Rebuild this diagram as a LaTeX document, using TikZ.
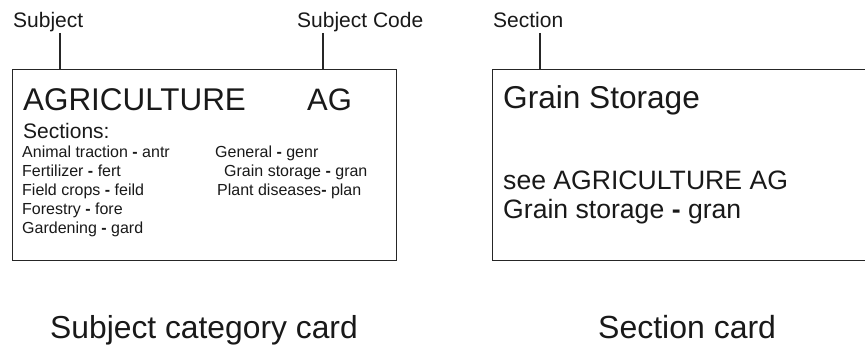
\documentclass[tikz,border=0pt]{standalone}
\usepackage{fontspec}
\setmainfont{Liberation Sans}
\newcommand{\fsz}[1]{\fontsize{#1}{#1}\selectfont}
\newcommand{\dsh}{\textbf{-}}
\tikzset{
  card/.style={draw=black!85, line width=1.3pt, inner sep=0pt, anchor=north west},
  leader/.style={draw=black!85, line width=1.2pt},
  lbl/.style={anchor=base west, inner sep=0pt, text=black!90},
}
\begin{document}
\begin{tikzpicture}[x=1pt,y=-1pt]
  \clip (0,0) rectangle (865,347);
  % the two cards
  \node[card, minimum width=384pt, minimum height=191pt] (subjcard) at (12,69) {};
  \node[card, minimum width=420pt, minimum height=191pt] (seccard) at (492,69) {};
  % labels and their leaders
  \node[lbl, font=\fsz{21}] (subj) at (13,27.5) {Subject};
  \node[lbl, font=\fsz{21}] (subjcode) at (297,27.5) {Subject Code};
  \node[lbl, font=\fsz{21}] (sec) at (493,27.5) {Section};
  \coordinate (subjpin) at (60,33);
  \coordinate (codepin) at (323,33);
  \coordinate (secpin) at (540,33);
  \draw[leader] (subjpin) -- (subjpin |- subjcard.north);
  \draw[leader] (codepin) -- (codepin |- subjcard.north);
  \draw[leader] (secpin) -- (secpin |- seccard.north);
  % subject category card
  \node[lbl, font=\fsz{31.4}] (agri) at (23,111) {AGRICULTURE};
  \node[lbl, font=\fsz{31}] (ag) at (307,111) {AG};
  \node[lbl, font=\fsz{21}] (sections) at (23,139) {Sections:};
  \foreach \txt [count=\i from 0] in {Animal traction \dsh{} antr, Fertilizer \dsh{} fert,
      Field crops \dsh{} feild, Forestry \dsh{} fore, Gardening \dsh{} gard}
    \node[lbl, font=\fsz{16}] (left\i) at (22,158+19*\i) {\txt};
  \node[lbl, font=\fsz{16}] (right0) at (215,158) {General \dsh{} genr};
  \node[lbl, font=\fsz{16}] (right1) at (224,177) {Grain storage \dsh{} gran};
  \node[lbl, font=\fsz{16}] (right2) at (217,196) {Plant diseases\dsh{} plan};
  % section card
  \node[lbl, font=\fsz{31.6}] (grain) at (503,109) {Grain Storage};
  \node[lbl, font=\fsz{26.6}] (see) at (503,190) {see AGRICULTURE AG};
  \node[lbl, font=\fsz{26.6}] (gran) at (503,219) {Grain storage \dsh{} gran};
  % captions
  \node[lbl, font=\fsz{31.8}] (subjcap) at (50,339) {Subject category card};
  \node[lbl, font=\fsz{32}] (seccap) at (598,339) {Section card};
\end{tikzpicture}
\end{document}
